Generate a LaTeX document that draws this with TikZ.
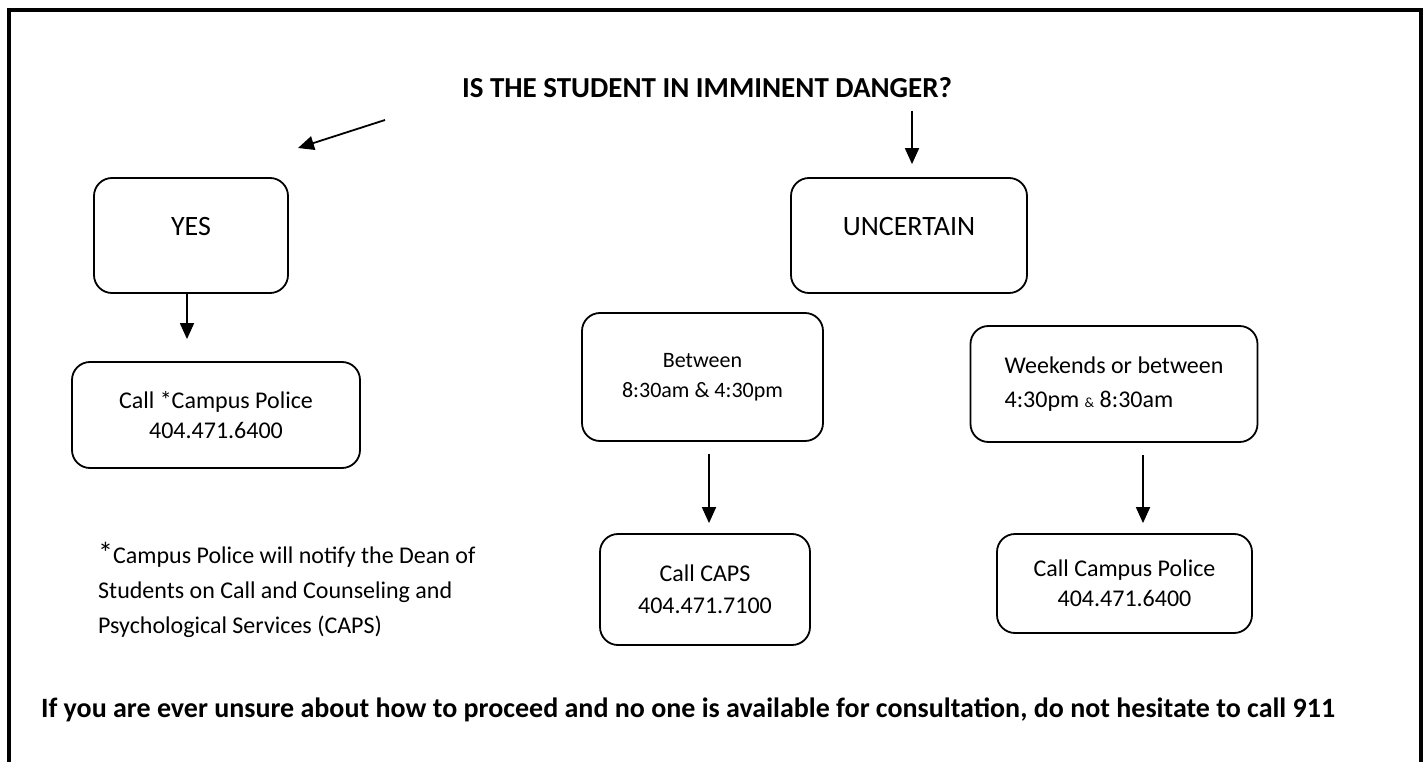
\documentclass[tikz,border=0pt]{standalone}
\usepackage{fontspec}
\setmainfont{Carlito}
\usetikzlibrary{arrows.meta}

\begin{document}
\begin{tikzpicture}[
  x=1pt, y=-1pt,
  >={Triangle[length=16pt,width=14pt]},
  arr/.style={->, line width=1.8pt},
  box/.style={draw, rounded corners=18pt, line width=1.8pt, align=center,
    inner sep=0pt, font=\fontsize{24}{30}\selectfont},
  big/.style={font=\fontsize{28}{34}\selectfont, text height=0pt, text depth=0pt},
  frame/.style={line width=4pt}
]
  \useasboundingbox (0,0) rectangle (1427,762);
  \draw[frame] (9,780) -- (9,10) -- (1421,10) -- (1421,780);

  \node[font=\bfseries\fontsize{29}{34}\selectfont, anchor=base] (q) at (707,98)
    {IS THE STUDENT IN IMMINENT DANGER?};

  % yes branch
  \node[box, big, minimum width=194pt, minimum height=115pt] (yes) at (191,235.5) {YES};
  \node[box, minimum width=288pt, minimum height=106pt] (call1) at (216,415)
    {Call *Campus Police\\404.471.6400};

  % uncertain branch
  \node[box, big, minimum width=236pt, minimum height=115pt] (unc) at (909,235.5) {UNCERTAIN};
  \node[box, font=\fontsize{22}{30}\selectfont, minimum width=241pt, minimum height=128pt]
    (betw) at (702.5,377) {Between\\8:30am \& 4:30pm};
  \node[box, align=left, font=\fontsize{24}{34}\selectfont, minimum width=287pt, minimum height=116pt]
    (wknd) at (1114,384) {Weekends or between\\4:30pm {\fontsize{14}{14}\selectfont\&} 8:30am};
  \node[box, font=\fontsize{24}{32}\selectfont, minimum width=210pt, minimum height=111pt]
    (caps) at (705,589.5) {Call CAPS\\404.471.7100};
  \node[box, minimum width=255pt, minimum height=99pt] (pol) at (1124.5,583.5)
    {Call Campus Police\\404.471.6400};

  \node[anchor=base west, align=left, inner sep=0pt, font=\fontsize{24}{35}\selectfont] (note) at (98,633)
    {{\fontsize{30}{30}\selectfont*}Campus Police will notify the Dean of\\
     Students on Call and Counseling and\\Psychological Services (CAPS)};

  \node[font=\bfseries\fontsize{28}{32}\selectfont, anchor=base] (hint) at (688,717)
    {If you are ever unsure about how to proceed and no one is available for consultation, do not hesitate to call 911};

  % arrows
  \coordinate (lft) at (385,120);
  \coordinate (lfttip) at (298,148);
  \draw[arr] (lft) -- (lfttip);
  \draw[arr, shorten <=9pt, shorten >=13pt] ([xshift=3pt]unc.north |- q.south) -- ([xshift=3pt]unc.north);
  \draw[arr, shorten >=22pt] ([xshift=-4pt]yes.south) -- ([xshift=-4pt]yes.south |- call1.north);
  \foreach \a/\b/\dx in {betw/caps/6.5, wknd/pol/29}
    \draw[arr, shorten <=12pt, shorten >=10pt] ([xshift=\dx pt]\a.south) -- ([xshift=\dx pt]\a.south |- \b.north);
\end{tikzpicture}
\end{document}
